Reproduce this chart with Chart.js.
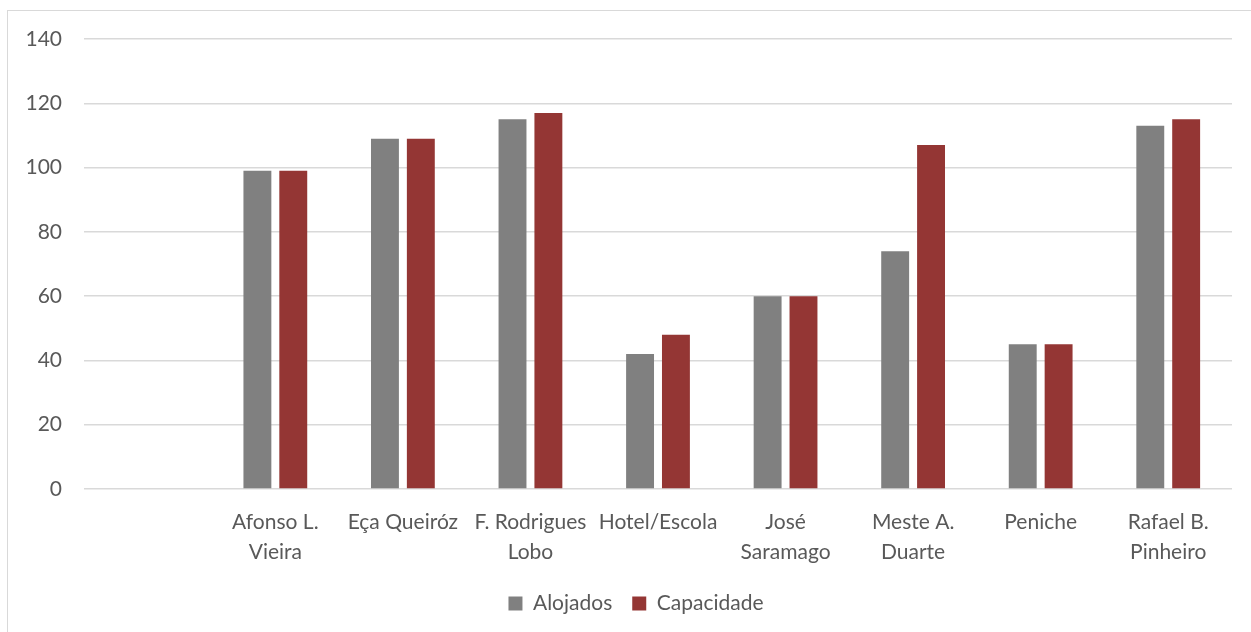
<!DOCTYPE html>
<html>
<head>
<meta charset="utf-8">
<script src="https://cdn.jsdelivr.net/npm/chart.js@4/dist/chart.umd.min.js"></script>
<style>
	body{ margin:0; background:#fff; }
	#wrap{ position:relative; width:1251px; height:632px; overflow:hidden; }
	#frame{ position:absolute; left:7px; top:10px; width:1260px; height:640px; border:1px solid #d9d9d9; box-sizing:border-box; }
	canvas{ position:absolute; left:0; top:0; }
</style>
</head>
<body>
<div id="wrap">
	<div id="frame"></div>
	<canvas id="chart" width="1251" height="632"></canvas>
</div>
<script>
// residences: first slot is left blank on purpose
const residencias = ['', ['Afonso L.', 'Vieira'], 'Eça Queiróz', ['F. Rodrigues', 'Lobo'], 'Hotel/Escola', ['José', 'Saramago'], ['Meste A.', 'Duarte'], 'Peniche', ['Rafael B.', 'Pinheiro']];
const alojados = [null, 99, 109, 115, 42, 60, 74, 45, 113];
const capacidade = [null, 99, 109, 117, 48, 60, 107, 45, 115];
const yTicks = [0, 20, 40, 60, 80, 100, 120, 140];

const txtColor = '#595959';
const gridColor = '#d9d9d9';
const fontFamily = 'Lato, "Open Sans", sans-serif';

// nudge the legend a bit to the right, it sits centred under the whole frame
const legendShift = {
	id: 'legendShift',
	afterLayout(chart){
		chart.legend.left += 20;
		chart.legend.right += 20;
	}
};

new Chart(document.getElementById('chart'), {
	type: 'bar',
	data: {
		labels: residencias,
		datasets: [{
			label: 'Alojados',
			data: alojados,
			backgroundColor: '#808080',
			categoryPercentage: 0.5625,
			barPercentage: 0.778
		}, {
			label: 'Capacidade',
			data: capacidade,
			backgroundColor: '#943634',
			categoryPercentage: 0.5625,
			barPercentage: 0.778
		}]
	},
	plugins: [legendShift],
	options: {
		responsive: false,
		animation: false,
		layout: { padding: { top: 39, right: 19, bottom: 8, left: 0 } },
		plugins: {
			tooltip: { enabled: false },
			legend: {
				position: 'bottom',
				labels: {
					color: txtColor,
					font: { family: fontFamily, size: 21 },
					boxWidth: 14,
					boxHeight: 14,
					padding: 20
				}
			}
		},
		scales: {
			x: {
				grid: { display: false, drawTicks: false },
				border: { display: false },
				ticks: {
					color: txtColor,
					font: { family: fontFamily, size: 21, lineHeight: 1.4 },
					padding: 19,
					maxRotation: 0,
					autoSkip: false
				},
				afterFit: (scale) => { scale.height = 84; }
			},
			y: {
				min: 0,
				max: 140,
				afterBuildTicks: (scale) => { scale.ticks = yTicks.map(v => ({ value: v })); },
				grid: { color: gridColor, lineWidth: 1.5, drawTicks: false },
				border: { display: false },
				ticks: {
					color: txtColor,
					font: { family: fontFamily, size: 21 },
					padding: 22
				},
				afterFit: (scale) => { scale.width = 84; }
			}
		}
	}
});
</script>
</body>
</html>
